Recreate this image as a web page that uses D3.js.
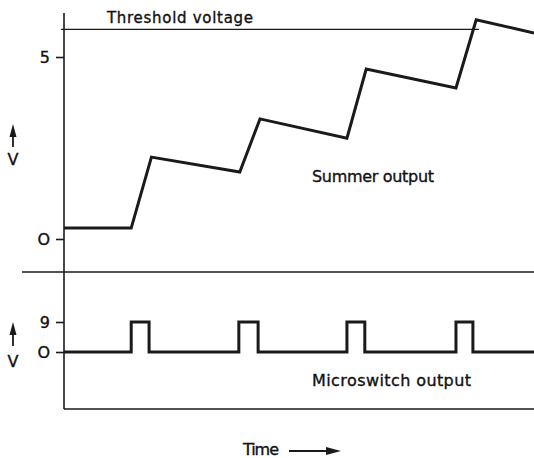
<!DOCTYPE html>
<html>
<head>
<meta charset="utf-8">
<script src="https://cdn.jsdelivr.net/npm/d3@7"></script>
<style>
  body { margin: 0; background: #fff; }
  text { font-family: "DejaVu Sans", sans-serif; fill: #111; stroke: #111; stroke-width: 0.35px; }
</style>
</head>
<body>
<svg id="chart" width="534" height="458"></svg>
<script>
// time in arbitrary units, 0..100 across the plot
const summerTime = [0, 14.3, 18.6, 37.4, 41.7, 60.2, 64.3, 83.4, 87.7, 100];
const summerVolts = [0.3, 0.3, 2.25, 1.84, 3.3, 2.77, 4.67, 4.15, 6.02, 5.66];
const thresholdVolts = 5.76;
const thresholdEnd = 88.3;

const pulseStart = [14.3, 37.2, 60.2, 83.4];
const pulseEnd = [18.1, 41.3, 64.0, 87.0];
const pulseHigh = 9;

const summerTicks = [0, 5];
const switchTicks = [0, 9];

const svg = d3.select("#chart");
const ink = "#1a1a1a";

const x = d3.scaleLinear().domain([0, 100]).range([64, 534]);
const yTop = d3.scaleLinear().domain([0, 5]).range([239, 57]);
const yBot = d3.scaleLinear().domain([0, 9]).range([352, 322]);

// frame lines
svg.append("line")
  .attr("x1", 64).attr("x2", 64).attr("y1", 13).attr("y2", 409)
  .attr("stroke", ink).attr("stroke-width", 1.6);
svg.append("line")
  .attr("x1", 22).attr("x2", 534).attr("y1", 272).attr("y2", 272)
  .attr("stroke", ink).attr("stroke-width", 1.6);
svg.append("line")
  .attr("x1", 64).attr("x2", 534).attr("y1", 409).attr("y2", 409)
  .attr("stroke", ink).attr("stroke-width", 1.6);

// axes
const fmt = (d) => (d === 0 ? "O" : String(d));
const axTop = svg.append("g").attr("transform", "translate(64,0)")
  .call(d3.axisLeft(yTop).tickValues(summerTicks).tickSize(8).tickPadding(6).tickFormat(fmt));
const axBot = svg.append("g").attr("transform", "translate(64,0)")
  .call(d3.axisLeft(yBot).tickValues(switchTicks).tickSize(8).tickPadding(6).tickFormat(fmt));
[axTop, axBot].forEach((g) => {
  g.select(".domain").remove();
  g.selectAll(".tick line").attr("stroke", ink).attr("stroke-width", 1.6);
  g.selectAll(".tick text").style("font-size", "16px").style("font-family", "DejaVu Sans, sans-serif")
    .attr("fill", ink);
});

// threshold
svg.append("line")
  .attr("x1", 61).attr("x2", x(thresholdEnd))
  .attr("y1", yTop(thresholdVolts)).attr("y2", yTop(thresholdVolts))
  .attr("stroke", ink).attr("stroke-width", 1.3);

// summer output
const summerLine = d3.line().x((d) => x(d[0])).y((d) => yTop(d[1]));
svg.append("path")
  .datum(d3.zip(summerTime, summerVolts))
  .attr("d", summerLine)
  .attr("fill", "none").attr("stroke", ink).attr("stroke-width", 3)
  .attr("stroke-linejoin", "miter");

// microswitch output
const pts = [[0, 0]];
pulseStart.forEach((s, i) => { pts.push([s, 0], [s, pulseHigh], [pulseEnd[i], pulseHigh], [pulseEnd[i], 0]); });
pts.push([100, 0]);
svg.append("path")
  .datum(pts)
  .attr("d", d3.line().x((d) => x(d[0])).y((d) => yBot(d[1])))
  .attr("fill", "none").attr("stroke", ink).attr("stroke-width", 3)
  .attr("stroke-linejoin", "miter");

// labels
svg.append("text").attr("x", 107).attr("y", 22.5)
  .attr("textLength", 146).style("font-size", "15px").text("Threshold voltage");
svg.append("text").attr("x", 312).attr("y", 182)
  .attr("textLength", 122).style("font-size", "16px").text("Summer output");
svg.append("text").attr("x", 312).attr("y", 386)
  .attr("textLength", 159).style("font-size", "16px").text("Microswitch output");
svg.append("text").attr("x", 243).attr("y", 455)
  .attr("textLength", 36).style("font-size", "16px").text("Time");

// V labels with up arrows (drawn heads)
[[124, 147, 165], [322, 346, 367]].forEach(([a, b, vy]) => {
  svg.append("line").attr("x1", 13).attr("x2", 13).attr("y1", b).attr("y2", a + 8)
    .attr("stroke", ink).attr("stroke-width", 1.8);
  svg.append("path").attr("d", `M13,${a} L16.5,${a + 13} L9.5,${a + 13} Z`).attr("fill", ink);
  svg.append("text").attr("x", 13).attr("y", vy).attr("text-anchor", "middle")
    .style("font-size", "16px").text("V");
});

// time arrow
svg.append("line").attr("x1", 289).attr("x2", 330).attr("y1", 451).attr("y2", 451)
  .attr("stroke", ink).attr("stroke-width", 1.8);
svg.append("path").attr("d", "M341,451 L326,447 L326,455 Z").attr("fill", ink);
</script>
</body>
</html>
